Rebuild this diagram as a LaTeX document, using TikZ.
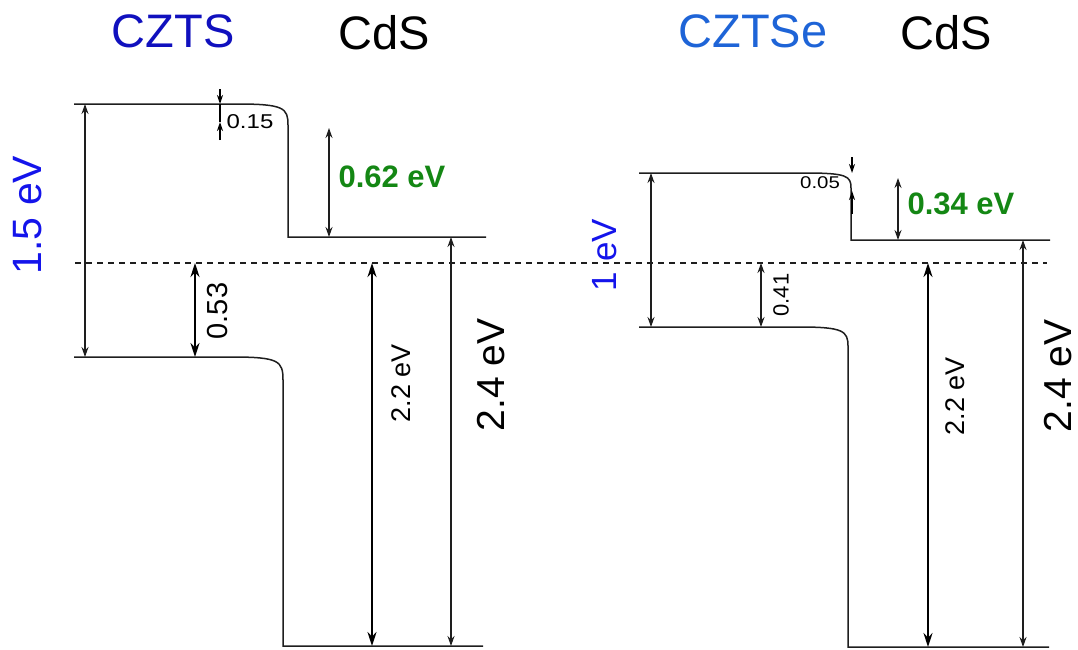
\documentclass[tikz,border=0pt]{standalone}
\usepackage{fontspec}
\setmainfont{Liberation Sans}
\usetikzlibrary{arrows.meta}
\definecolor{cztsc}{RGB}{16,16,190}
\definecolor{cztsec}{RGB}{30,100,215}
\definecolor{evblue}{RGB}{20,20,235}
\definecolor{evgreen}{RGB}{20,135,20}
\definecolor{linec}{RGB}{30,30,30}
\tikzset{
  band/.style={line width=1.5pt, draw=linec},
  dimthin/.style={line width=1.2pt, draw=linec, {Stealth[length=10pt,width=7pt]}-{Stealth[length=10pt,width=7pt]}},
  dimthick/.style={line width=2.2pt, draw=black, {Stealth[length=14pt,width=9pt]}-{Stealth[length=14pt,width=9pt]}},
  tickarrow/.style={line width=1.4pt, draw=black, -{Stealth[length=9pt,width=6pt]}},
  fermi/.style={line width=1.2pt, draw=linec, dash pattern=on 6pt off 5pt},
  lbl/.style={inner sep=0pt, anchor=center},
}
\newcommand{\fs}[1]{\fontsize{#1}{#1}\selectfont}
\begin{document}
\begin{tikzpicture}[x=1pt,y=-1pt]
\useasboundingbox (0,0) rectangle (1078,649);

% ---------- titles ----------
\node[lbl, text=cztsc] (tczts) at (173,31) {\fs{47}CZTS};
\node[lbl] (tcds1) at (384,33) {\fs{47}CdS};
\node[lbl, text=cztsec] (tcztse) at (753,31) {\fs{47}CZTSe};
\node[lbl] (tcds2) at (946,33) {\fs{47}CdS};

% ---------- Fermi level ----------
\coordinate (fL) at (75,263);
\coordinate (fR) at (1047,263);
\draw[fermi] (fL) -- (fR);

% ---------- left: CZTS / CdS ----------
\coordinate (cbL0) at (74,104);
\coordinate (cbLcorner) at (288,125);
\coordinate (cbLstep) at (288,237);
\coordinate (cbLend) at (486,237);
\draw[band] (cbL0) -- (237,104) .. controls (284,104) and (288,108) .. (cbLcorner) -- (cbLstep) -- (cbLend);

\coordinate (vbL0) at (74,357);
\coordinate (vbLcorner) at (283,380);
\coordinate (vbLstep) at (283,646);
\coordinate (vbLend) at (483,646);
\draw[band] (vbL0) -- (232,357) .. controls (279,357) and (283,361) .. (vbLcorner) -- (vbLstep) -- (vbLend);

% 1.5 eV gap
\coordinate (gLt) at (85,104);
\coordinate (gLb) at (85,357);
\draw[dimthin] (gLt) -- (gLb);
\node[lbl, rotate=90, text=evblue] (l15) at (28,215) {\fs{41}1.5 eV};

% 0.15 offset
\coordinate (o15a) at (220,89);
\coordinate (o15b) at (220,104);
\coordinate (o15c) at (220,122);
\coordinate (o15d) at (220,140);
\draw[line width=1.4pt] (o15b) -- (o15c);
\draw[tickarrow] (o15a) -- (o15b);
\draw[tickarrow] (o15d) -- (o15c);
\node[lbl, xscale=1.2] (l015) at (250,122) {\fs{20}0.15};

% 0.53
\coordinate (a53t) at (195,263);
\coordinate (a53b) at (195,357);
\draw[dimthick] (a53t) -- (a53b);
\node[lbl, rotate=90] (l053) at (218,311) {\fs{29}0.53};

% 0.62 eV
\coordinate (a62t) at (329,128);
\coordinate (a62b) at (329,237);
\draw[dimthin] (a62t) -- (a62b);
\node[lbl, text=evgreen, font=\bfseries] (l062) at (392,177) {\fs{31}0.62 eV};

% 2.2 eV
\coordinate (a22Lt) at (372,263);
\coordinate (a22Lb) at (372,646);
\draw[dimthick] (a22Lt) -- (a22Lb);
\node[lbl, rotate=90] (l22L) at (401,383) {\fs{27}2.2 eV};

% 2.4 eV
\coordinate (a24Lt) at (451,237);
\coordinate (a24Lb) at (451,646);
\draw[dimthin] (a24Lt) -- (a24Lb);
\node[lbl, rotate=90] (l24L) at (491,375) {\fs{39}2.4 eV};

% ---------- right: CZTSe / CdS ----------
\coordinate (cbR0) at (639,173);
\coordinate (cbRcorner) at (851,188);
\coordinate (cbRstep) at (851,240);
\coordinate (cbRend) at (1050,240);
\draw[band] (cbR0) -- (805,173) .. controls (847,173) and (851,176) .. (cbRcorner) -- (cbRstep) -- (cbRend);

\coordinate (vbR0) at (639,327);
\coordinate (vbRcorner) at (848,346);
\coordinate (vbRstep) at (848,647);
\coordinate (vbRend) at (1049,647);
\draw[band] (vbR0) -- (800,327) .. controls (843,327) and (848,331) .. (vbRcorner) -- (vbRstep) -- (vbRend);

% 1 eV gap
\coordinate (gRt) at (651,173);
\coordinate (gRb) at (651,327);
\draw[dimthin] (gRt) -- (gRb);
\node[lbl, rotate=90, text=evblue] (l1) at (605,255) {\fs{35}1 eV};

% 0.05 offset
\coordinate (o05a) at (852,157);
\coordinate (o05b) at (852,173);
\coordinate (o05c) at (852,191);
\coordinate (o05d) at (852,214);
\draw[tickarrow] (o05a) -- (o05b);
\draw[tickarrow] (o05d) -- (o05c);
\node[lbl, xscale=1.2] (l005) at (820,183) {\fs{17}0.05};

% 0.41
\coordinate (a41t) at (761,263);
\coordinate (a41b) at (761,327);
\draw[dimthin, line width=1.6pt] (a41t) -- (a41b);
\node[lbl, rotate=90] (l041) at (781,295) {\fs{22}0.41};

% 0.34 eV
\coordinate (a34t) at (898,178);
\coordinate (a34b) at (898,240);
\draw[dimthin] (a34t) -- (a34b);
\node[lbl, text=evgreen, font=\bfseries] (l034) at (961,204) {\fs{31}0.34 eV};

% 2.2 eV
\coordinate (a22Rt) at (928,263);
\coordinate (a22Rb) at (928,647);
\draw[dimthick, line width=1.8pt] (a22Rt) -- (a22Rb);
\node[lbl, rotate=90] (l22R) at (955,396) {\fs{27}2.2 eV};

% 2.4 eV
\coordinate (a24Rt) at (1023,240);
\coordinate (a24Rb) at (1023,647);
\draw[dimthin] (a24Rt) -- (a24Rb);
\node[lbl, rotate=90] (l24R) at (1058,376) {\fs{39}2.4 eV};

\end{tikzpicture}
\end{document}
